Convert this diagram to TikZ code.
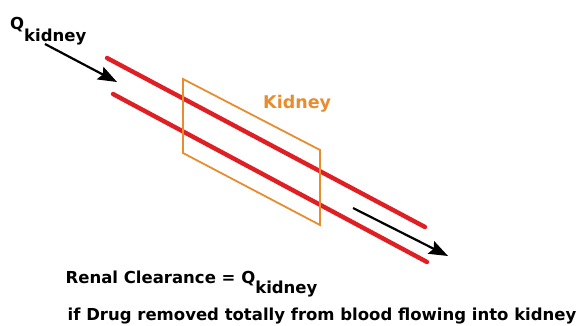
\documentclass[tikz,border=0pt]{standalone}
\usepackage{fontspec}
\setmainfont{DejaVu Sans}
\definecolor{bloodred}{RGB}{222,32,36}
\definecolor{kidneyorange}{RGB}{232,140,48}
\usetikzlibrary{arrows.meta, positioning}

\begin{document}
\begin{tikzpicture}[
    x=1pt, y=-1pt,
    vessel/.style={line width=4.4pt, bloodred, line cap=round},
    organ/.style={line width=1.8pt, kidneyorange, line join=miter},
    flow/.style={-{Stealth[length=19pt, width=14pt, inset=3pt]}, line width=2.2pt, black},
    txt/.style={inner sep=0pt, anchor=base west, font=\bfseries\fontsize{16.5}{18}\selectfont}
]
\useasboundingbox (0,0) rectangle (586,326);

% Blood vessels
\draw[vessel] (107,58) -- (425,227);
\draw[vessel] (113,94) -- (427,262);

% Kidney box
\draw[organ] (183,79) -- (320,150) -- (320,225) -- (183,153) -- cycle;
\node[txt, font=\bfseries\fontsize{17.5}{20}\selectfont, text=kidneyorange] (kidneylabel) at (263,109) {Kidney};

% Flow in and out
\coordinate (inTail) at (45,44);
\coordinate (inHead) at (117,82);
\coordinate (outTail) at (353,208);
\coordinate (outHead) at (448,256);
\draw[flow] (inTail) -- (inHead);
\draw[flow] (outTail) -- (outHead);

% Labels
\node[txt] (qin) at (10,30) {Q\raisebox{-12pt}{kidney}};
\node[txt] (clearance) at (65.5,283) {Renal Clearance = Q\raisebox{-10pt}{kidney}};
\node[txt] (condition) at (67.5,320) {if Drug removed totally from blood flowing into kidney};

\end{tikzpicture}
\end{document}
